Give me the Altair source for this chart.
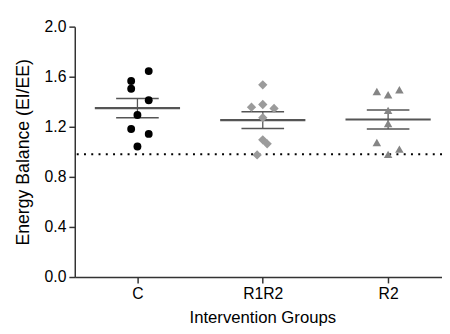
import altair as alt
import pandas as pd
import numpy as np

groups = ["C", "R1R2", "R2"]
c_vals = [1.645, 1.566, 1.504, 1.412, 1.294, 1.182, 1.143, 1.043]
c_jit = [0.09, -0.05, -0.05, 0.09, 0.0, -0.05, 0.09, 0.0]
r1r2_vals = [1.535, 1.378, 1.357, 1.347, 1.273, 1.096, 1.064, 0.975]
r1r2_jit = [0.0, 0.0, -0.09, 0.09, 0.0, 0.0, 0.035, -0.045]
r2_vals = [1.496, 1.482, 1.456, 1.331, 1.226, 1.075, 1.022, 0.98]
r2_jit = [0.09, -0.09, 0.0, 0.0, 0.0, -0.09, 0.09, 0.0]
ref_line = 0.98
y_ticks = [0.0, 0.4, 0.8, 1.2, 1.6, 2.0]

shapes = {"C": "circle", "R1R2": "diamond", "R2": "triangle-up"}
colors = {"C": "#000000", "R1R2": "#9b9b9b", "R2": "#858585"}
sizes = {"C": 64, "R1R2": 90, "R2": 75}

rows = []
stats = []
for i, (g, vals, jit) in enumerate(zip(groups, [c_vals, r1r2_vals, r2_vals], [c_jit, r1r2_jit, r2_jit])):
    for v, j in zip(vals, jit):
        rows.append({"group": g, "x": i + j, "y": v})
    arr = np.array(vals)
    m = arr.mean()
    sem = arr.std(ddof=1) / np.sqrt(len(arr))
    stats.append({"group": g, "i": i, "mean": m, "lo": m - sem, "hi": m + sem,
                  "mx1": i - 0.34, "mx2": i + 0.34, "cx1": i - 0.17, "cx2": i + 0.17})
df = pd.DataFrame(rows)
st = pd.DataFrame(stats)

xscale = alt.Scale(domain=[-0.5, 2.43], nice=False, zero=False)
yscale = alt.Scale(domain=[0, 2], nice=False)

label_expr = "datum.value == 0 ? 'C' : datum.value == 1 ? 'R1R2' : 'R2'"

base_x_axis = alt.Axis(values=[0, 1, 2], labelExpr=label_expr, title="Intervention Groups",
                       grid=False, tickSize=6, labelPadding=3, titlePadding=8,
                       titleFontSize=17, titleX=191, titleAlign="center")
base_y_axis = alt.Axis(values=y_ticks, format=".1f", title="Energy Balance (EI/EE)",
                       grid=False, tickSize=6, labelPadding=3, titlePadding=12,
                       titleFontSize=18)

dotted = alt.Chart(pd.DataFrame({"y": [ref_line]})).mark_rule(
    color="#000000", strokeWidth=2, strokeDash=[2, 5.4]
).encode(y=alt.Y("y:Q", scale=yscale, axis=base_y_axis))

pts_layers = []
for g in groups:
    pts_layers.append(
        alt.Chart(df[df.group == g]).mark_point(
            shape=shapes[g], filled=True, opacity=1, color=colors[g], size=sizes[g]
        ).encode(
            x=alt.X("x:Q", scale=xscale, axis=base_x_axis),
            y=alt.Y("y:Q", scale=yscale, axis=base_y_axis),
        )
    )

line_color = "#555555"
mean_rule = alt.Chart(st).mark_rule(color=line_color, strokeWidth=2.2).encode(
    x=alt.X("mx1:Q", scale=xscale), x2="mx2:Q", y=alt.Y("mean:Q", scale=yscale))
cap_lo = alt.Chart(st).mark_rule(color=line_color, strokeWidth=1.6).encode(
    x=alt.X("cx1:Q", scale=xscale), x2="cx2:Q", y=alt.Y("lo:Q", scale=yscale))
cap_hi = alt.Chart(st).mark_rule(color=line_color, strokeWidth=1.6).encode(
    x=alt.X("cx1:Q", scale=xscale), x2="cx2:Q", y=alt.Y("hi:Q", scale=yscale))
vert = alt.Chart(st).mark_rule(color=line_color, strokeWidth=1.3).encode(
    x=alt.X("i:Q", scale=xscale), y=alt.Y("lo:Q", scale=yscale), y2="hi:Q")

chart = alt.layer(dotted, vert, cap_lo, cap_hi, mean_rule, *pts_layers).properties(
    width=374, height=255,
    autosize=alt.AutoSizeParams(type="none"),
    padding={"left": 68, "top": 16, "right": 0, "bottom": 53},
    background="#ffffff",
).configure_view(stroke=None).configure_axis(
    labelFont="Liberation Sans", titleFont="Liberation Sans",
    labelFontSize=16, labelColor="#000000", titleColor="#000000",
    titleFontWeight="normal", domainColor="#333333", tickColor="#333333",
    domainWidth=1.5, tickWidth=1.5,
)

chart.save("out.html", embed_options={"renderer": "svg", "actions": False})
